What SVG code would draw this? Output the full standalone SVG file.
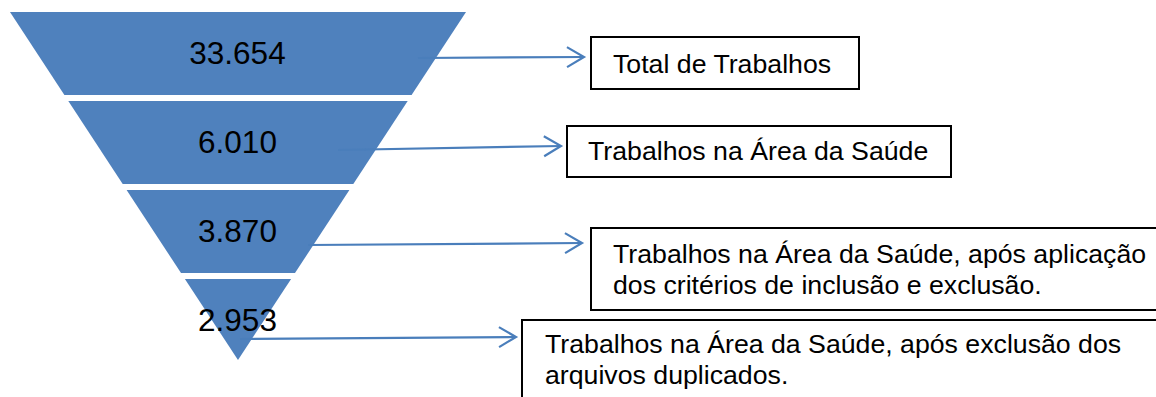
<svg xmlns="http://www.w3.org/2000/svg" width="1156" height="397" viewBox="0 0 1156 397">
  <style>
    .band { fill: #4f81bd; }
    .num { font-family: "Liberation Sans", Arial, sans-serif; font-size: 31.5px; fill: #000; text-anchor: middle; }
    .box { fill: #fff; stroke: #000; stroke-width: 2; }
    .lbl { font-family: "Liberation Sans", Arial, sans-serif; font-size: 26.7px; fill: #000; }
    .conn { fill: none; stroke: #4a7ebb; stroke-width: 2.2; }
  </style>
  <defs>
    <marker id="arrow" markerUnits="userSpaceOnUse" markerWidth="24" markerHeight="26" viewBox="-20 -13 24 26" refX="0" refY="0" orient="auto">
      <path d="M-17,-10 L0,0 L-17,10" fill="none" stroke="#4a7ebb" stroke-width="2.2"/>
    </marker>
  </defs>
  <rect width="1156" height="397" fill="#fff"/>
  <g id="funnel">
    <g id="band1">
      <polygon class="band" points="10,12 466,12 411.6,95 64.4,95"/>
      <text class="num" x="237.5" y="64">33.654</text>
    </g>
    <g id="band2">
      <polygon class="band" points="68.3,101 407.7,101 353.3,184 122.7,184"/>
      <text class="num" x="237.5" y="153">6.010</text>
    </g>
    <g id="band3">
      <polygon class="band" points="126.6,190 349.4,190 295,273 181,273"/>
      <text class="num" x="237.5" y="242">3.870</text>
    </g>
    <g id="band4">
      <polygon class="band" points="184.9,279 291.1,279 238,360"/>
      <text class="num" x="237.5" y="331">2.953</text>
    </g>
  </g>
  <g id="box1">
    <rect class="box" x="591" y="37" width="268" height="52"/>
    <text class="lbl" x="613" y="73">Total de Trabalhos</text>
  </g>
  <g id="box2">
    <rect class="box" x="567" y="126" width="384" height="51"/>
    <text class="lbl" x="588" y="160">Trabalhos na Área da Saúde</text>
  </g>
  <g id="box3">
    <rect class="box" x="591" y="228" width="580" height="82"/>
    <text class="lbl" x="613" y="263">Trabalhos na Área da Saúde, após aplicação</text>
    <text class="lbl" x="613" y="294">dos critérios de inclusão e exclusão.</text>
  </g>
  <g id="box4">
    <rect class="box" x="522" y="320" width="660" height="100"/>
    <text class="lbl" x="545" y="353">Trabalhos na Área da Saúde, após exclusão dos</text>
    <text class="lbl" x="545" y="384">arquivos duplicados.</text>
  </g>
  <g id="connectors">
    <line class="conn" x1="418" y1="58" x2="584" y2="57" marker-end="url(#arrow)"/>
    <line class="conn" x1="338" y1="150" x2="561" y2="146" marker-end="url(#arrow)"/>
    <line class="conn" x1="308" y1="245" x2="582" y2="243" marker-end="url(#arrow)"/>
    <line class="conn" x1="240" y1="339" x2="516" y2="337" marker-end="url(#arrow)"/>
  </g>
</svg>
